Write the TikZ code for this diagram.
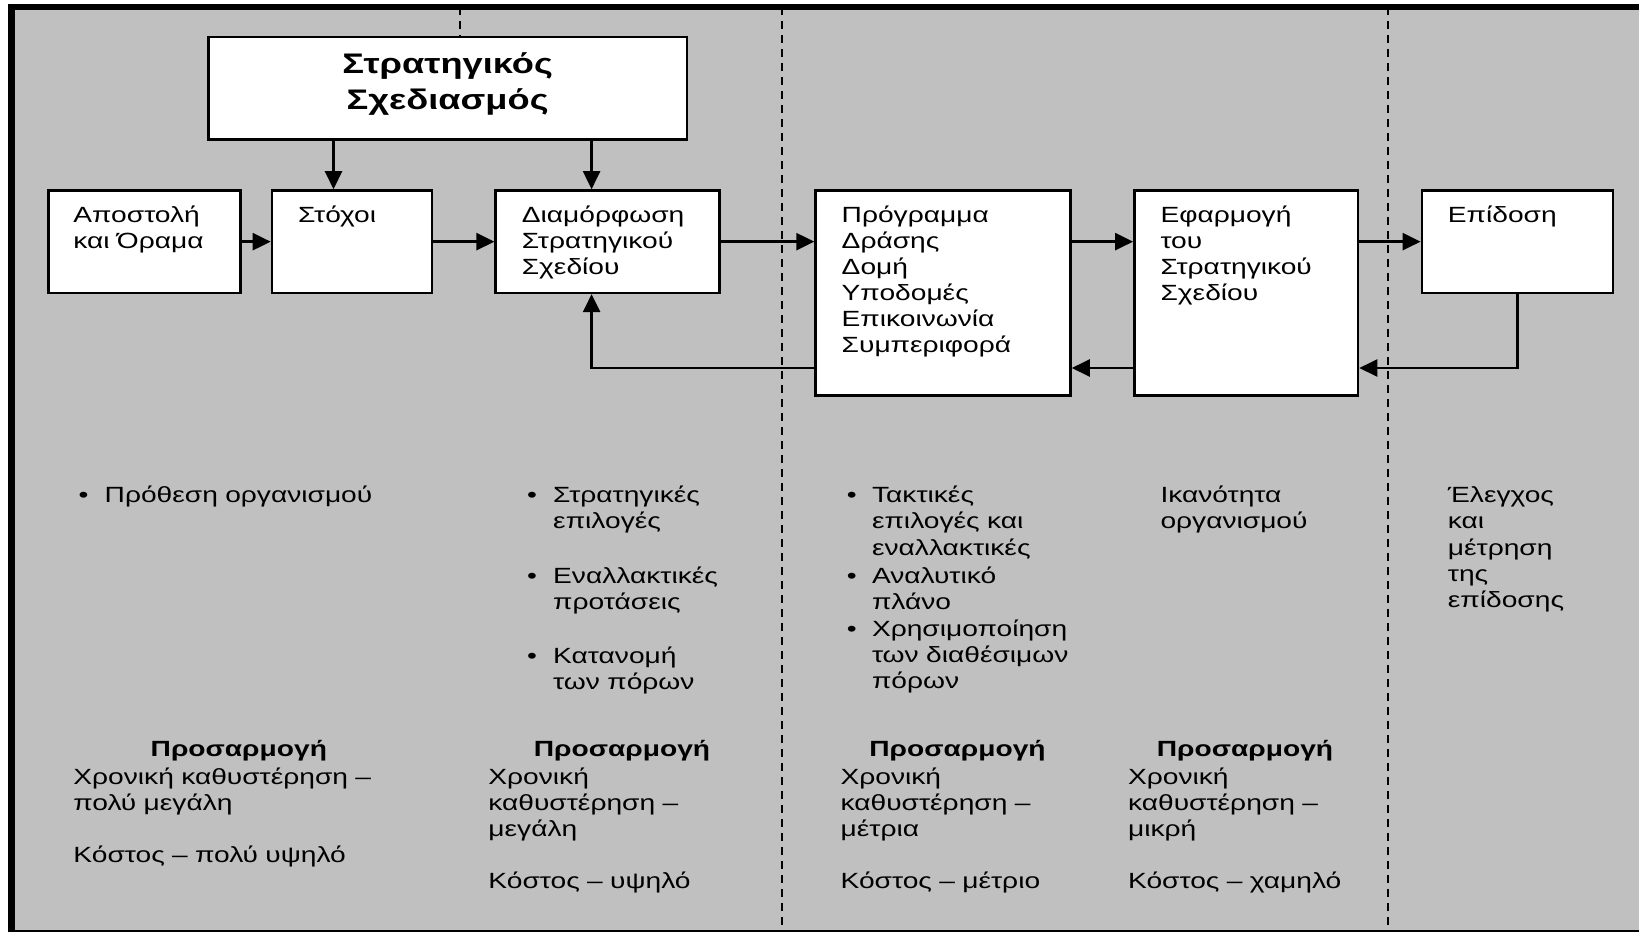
\documentclass[tikz,border=0pt]{standalone}
\usepackage{fontspec}
\setmainfont{Liberation Sans}[FakeStretch=1.28]
\usetikzlibrary{arrows.meta}
\definecolor{bg}{HTML}{C0C0C0}
\newcommand{\bodyfont}{\fontsize{22}{26.1}\selectfont}
\newcommand{\titlefont}{\fontsize{28.3}{35.5}\selectfont\bfseries}
\tikzset{
  box/.style={draw, line width=2.5pt, fill=white, inner sep=0pt, anchor=north west},
  txt/.style={anchor=base west, inner sep=0pt, align=left, text width=320pt, font=\bodyfont},
  bul/.style={anchor=base west, inner sep=0pt, font=\bodyfont},
  head/.style={anchor=base, inner sep=0pt, font=\bodyfont\bfseries},
  conn/.style={line width=2.5pt},
  arr/.style={line width=2.5pt, -{Triangle[length=18pt,width=17pt]}},
  sepline/.style={line width=2pt, dash pattern=on 8pt off 6pt},
}
\begin{document}
\begin{tikzpicture}[x=1pt,y=-1pt]
\useasboundingbox (0,0) rectangle (1639,932);
% frame
\fill[white] (0,0) rectangle (1639,932);
\fill[bg] (8,4) rectangle (1639,932);
\draw[line width=7pt] (11.5,4) -- (11.5,932);
\draw[line width=6pt] (8,7) -- (1639,7);
\draw[line width=2pt] (8,931) -- (1639,931);

% boxes
\node[box, minimum width=478.7pt, minimum height=102.5pt] (plan) at (207,35.5) {};
\node[box, minimum width=192.4pt, minimum height=102.4pt] (apo) at (47,189.2) {};
\node[box, minimum width=160pt, minimum height=102.4pt] (stox) at (270.7,189.2) {};
\node[box, minimum width=223.7pt, minimum height=102.4pt] (diam) at (494.4,189.2) {};
\node[box, minimum width=255pt, minimum height=204.9pt] (prog) at (814.3,189.2) {};
\node[box, minimum width=223.7pt, minimum height=204.9pt] (efa) at (1133.1,189.2) {};
\node[box, minimum width=191.3pt, minimum height=102.4pt] (epi) at (1420.6,189.2) {};

% separators
\coordinate (s1) at (459.9,7);
\coordinate (s2) at (781.9,7);
\coordinate (s2b) at (781.9,931);
\coordinate (s3) at (1388.2,7);
\coordinate (s3b) at (1388.2,931);
\draw[sepline] (s1) -- (s1 |- plan.north);
\draw[sepline] (s2) -- (s2b);
\draw[sepline] (s3) -- (s3b);

% box texts
\node[anchor=center, inner sep=0pt, align=center, font=\titlefont, yshift=4pt] (plant) at (plan.center) {Στρατηγικός\\Σχεδιασμός};
\node[txt] (apot) at (73.2,222) {Αποστολή\\και Όραμα};
\node[txt] (stoxt) at (297.9,222) {Στόχοι};
\node[txt] (diamt) at (521.6,222) {Διαμόρφωση\\Στρατηγικού\\Σχεδίου};
\node[txt] (progt) at (841.5,222) {Πρόγραμμα\\Δράσης\\Δομή\\Υποδομές\\Επικοινωνία\\Συμπεριφορά};
\node[txt] (efat) at (1160.3,222) {Εφαρμογή\\του\\Στρατηγικού\\Σχεδίου};
\node[txt] (epit) at (1447.7,222) {Επίδοση};

% connectors
\coordinate (xa) at (333.5,0);
\coordinate (xb) at (591.6,0);
\coordinate (fb) at (0,368);
\draw[arr] (plan.south -| xa) -- (stox.north -| xa);
\draw[arr] (plan.south -| xb) -- (diam.north -| xb);
\draw[arr] (apo.east) -- (stox.west);
\draw[arr] (stox.east) -- (diam.west);
\draw[arr] (diam.east) -- (diam.east -| prog.west);
\draw[arr] (prog.east |- diam.east) -- (efa.west |- diam.east);
\draw[arr] (efa.east |- epi.west) -- (epi.west);
\draw[arr] (prog.west |- fb) -- (fb -| xb) -- (diam.south -| xb);
\draw[arr] (efa.west |- fb) -- (prog.east |- fb);
\draw[arr] (epi.south) -- (epi.south |- fb) -- (efa.east |- fb);

% lower texts
\node[bul] (b1) at (78.4,502.8) {•};
\node[txt] (l1) at (104.5,502.8) {Πρόθεση οργανισμού};

\node[bul] (b21) at (526.8,502.8) {•};
\node[txt] (l21) at (553,502.8) {Στρατηγικές\\επιλογές};
\node[bul] (b22) at (526.8,583.3) {•};
\node[txt] (l22) at (553,583.3) {Εναλλακτικές\\προτάσεις};
\node[bul] (b23) at (526.8,663.8) {•};
\node[txt] (l23) at (553,663.8) {Κατανομή\\των πόρων};

\node[bul] (b31) at (846.7,502.8) {•};
\node[txt] (l31) at (871.8,502.8) {Τακτικές\\επιλογές και\\εναλλακτικές};
\node[bul] (b32) at (846.7,583.3) {•};
\node[txt] (l32) at (871.8,583.3) {Αναλυτικό\\πλάνο};
\node[bul] (b33) at (846.7,636.6) {•};
\node[txt] (l33) at (871.8,636.6) {Χρησιμοποίηση\\των διαθέσιμων\\πόρων};

\node[txt] (l4) at (1160.3,502.8) {Ικανότητα\\οργανισμού};
\node[txt] (l5) at (1447.7,502.8) {Έλεγχος\\και\\μέτρηση\\της\\επίδοσης};

% adaptation
\node[head] (h1) at (238.8,756.8) {Προσαρμογή};
\node[head] (h2) at (622,756.8) {Προσαρμογή};
\node[head] (h3) at (957.5,756.8) {Προσαρμογή};
\node[head] (h4) at (1245,756.8) {Προσαρμογή};
\node[txt] (c1) at (73.2,784) {Χρονική καθυστέρηση –\\πολύ μεγάλη\\[26.1pt]Κόστος – πολύ υψηλό};
\node[txt] (c2) at (488.2,784) {Χρονική\\καθυστέρηση –\\μεγάλη\\[26.1pt]Κόστος – υψηλό};
\node[txt] (c3) at (840.4,784) {Χρονική\\καθυστέρηση –\\μέτρια\\[26.1pt]Κόστος – μέτριο};
\node[txt] (c4) at (1127.9,784) {Χρονική\\καθυστέρηση –\\μικρή\\[26.1pt]Κόστος – χαμηλό};
\end{tikzpicture}
\end{document}
